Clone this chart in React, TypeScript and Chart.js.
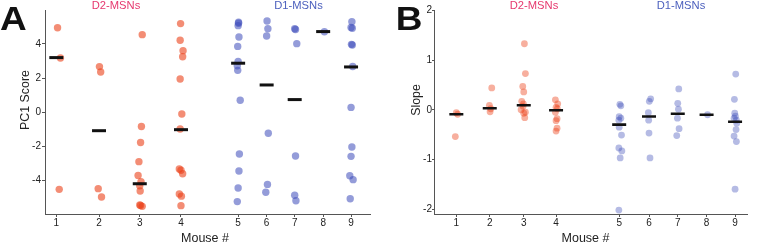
import { useEffect, useRef } from 'react';
import { Chart, registerables } from 'chart.js';

Chart.register(...registerables);

const FONT = '"Liberation Sans", Arial, Helvetica, sans-serif';

// ---------- data ----------
const mouseLabels = ['1', '2', '3', '4', '5', '6', '7', '8', '9'];
const isD2 = [true, true, true, true, false, false, false, false, false];

// axis slot of each mouse (the two groups are spaced differently in the figure)
const slotA = [1, 2.028, 3.008, 4, 5.375, 6.061, 6.736, 7.421, 8.092];
const slotB = [1, 2.005, 3.028, 4, 5.899, 6.796, 7.661, 8.528, 9.385];

const pcTicks = [-4, -2, 0, 2, 4];
const slopeTicks = [-2, -1, 0, 1, 2];

// Panel A: PC1 score per neuron, per mouse
const pcMouse1 = [4.96, 3.18, -4.55];
const pcMouse2 = [2.67, 2.35, -4.51, -5.0];
const pcMouse3 = [4.55, -0.85, -1.79, -2.92, -3.73, -4.1, -4.34, -4.65, -5.47, -5.55, -5.5];
const pcMouse4 = [5.2, 4.22, 3.61, 3.25, 1.94, -0.12, -1.0, -3.35, -3.43, -3.63, -4.82, -4.95, -5.51];
const pcMouse5 = [5.28, 5.22, 5.08, 4.41, 3.86, 2.98, 2.72, 2.45, 0.69, -2.47, -3.47, -4.47, -5.27];
const pcMouse6 = [5.35, 4.9, 4.47, -1.25, -4.26, -4.72];
const pcMouse7 = [4.9, 4.85, 4.02, -2.59, -4.9, -5.22];
const pcMouse8 = [4.72];
const pcMouse9 = [5.31, 4.97, 4.93, 3.98, 3.94, 2.68, 0.27, -2.06, -2.61, -3.75, -3.98, -5.1];
const pcValues = [pcMouse1, pcMouse2, pcMouse3, pcMouse4, pcMouse5, pcMouse6, pcMouse7, pcMouse8, pcMouse9];
const pcJitter = [
  [0.03, 0.1, 0.07],
  [0.01, 0.04, -0.02, 0.06],
  [0.06, 0.04, 0.02, -0.02, -0.04, 0.03, 0, 0.01, 0, 0.06, 0.02],
  [-0.01, -0.02, 0.05, 0.04, -0.02, 0.02, -0.02, -0.04, 0, 0.04, -0.04, 0.01, 0],
  [0.01, 0.01, 0, 0.02, -0.01, 0, -0.02, -0.01, 0.05, 0.03, 0.02, 0, -0.02],
  [0.01, 0.03, 0, 0.04, 0.02, -0.02],
  [0, 0.02, 0.05, 0.02, 0, 0.03],
  [0.03],
  [0.02, 0, 0.03, 0.01, 0.03, 0.04, 0, 0.02, 0, -0.03, 0.05, -0.02],
];
const pcMedians = [3.2, -1.1, -4.22, -1.04, 2.87, 1.59, 0.73, 4.73, 2.65];

// Panel B: slope per neuron, per mouse
const slopeMouse1 = [-0.06, -0.09, -0.54];
const slopeMouse2 = [0.44, 0.09, 0.02, -0.04];
const slopeMouse3 = [1.33, 0.73, 0.47, 0.36, 0.17, 0.12, 0.07, 0.0, -0.05, -0.07, -0.16];
const slopeMouse4 = [0.2, 0.12, 0.05, 0.02, -0.05, -0.18, -0.22, -0.37, -0.43];
const slopeMouse5 = [0.11, 0.08, -0.14, -0.17, -0.21, -0.35, -0.51, -0.77, -0.83, -0.97, -2.02];
const slopeMouse6 = [0.22, 0.17, -0.06, -0.21, -0.47, -0.97];
const slopeMouse7 = [0.42, 0.13, 0.01, -0.17, -0.38, -0.52];
const slopeMouse8 = [-0.1];
const slopeMouse9 = [0.72, 0.21, -0.07, -0.13, -0.17, -0.21, -0.27, -0.4, -0.53, -0.64, -1.6];
const slopeValues = [slopeMouse1, slopeMouse2, slopeMouse3, slopeMouse4, slopeMouse5, slopeMouse6, slopeMouse7, slopeMouse8, slopeMouse9];
const slopeJitter = [
  [0, 0.04, -0.03],
  [0.06, -0.01, 0.03, 0.01],
  [0.02, 0.05, -0.03, 0, -0.06, -0.01, -0.02, -0.08, 0.05, 0, 0.03],
  [-0.02, 0.05, 0, 0.04, -0.02, 0.03, 0, 0.03, 0],
  [0.02, 0.05, 0, 0.05, -0.01, 0, 0.07, -0.01, 0.08, 0.03, -0.01],
  [0.05, 0.01, -0.02, -0.01, 0, 0.03],
  [0.03, 0, 0.02, -0.01, 0.04, -0.03],
  [0.03],
  [0.02, -0.02, -0.01, 0.01, -0.03, 0.04, 0.05, 0.03, -0.03, 0.04, 0],
];
const slopeMedians = [-0.09, 0.03, 0.09, -0.01, -0.3, -0.135, -0.08, -0.1, -0.24];

// ---------- styles ----------
const D2_TITLE = '#e6386e';
const D1_TITLE = '#4b5fbd';
const AXIS = '#555';
const TEXT = '#222';

type PanelSpec = {
  width: number;
  left: number;
  values: number[][];
  jitter: number[][];
  medians: number[];
  slots: number[];
  xMin: number;
  xMax: number;
  yMin: number;
  yMax: number;
  yTicks: number[];
  yAxisWidth: number;
  padRight: number;
  yTickLen: number;
  yTickPad: number;
  letter: string;
  letterX: number;
  yTitle: string;
  yTitleX: number;
  d2X: number;
  d1X: number;
  xTitleX: number;
  radius: number;
  d2Color: string;
  d1Color: string;
  barWidth: number;
};

const panelA: PanelSpec = {
  width: 380,
  left: 0,
  values: pcValues,
  jitter: pcJitter,
  medians: pcMedians,
  slots: slotA,
  xMin: 0.728,
  xMax: 8.548,
  yMin: -6,
  yMax: 6,
  yTicks: pcTicks,
  yAxisWidth: 45,
  padRight: 4,
  yTickLen: 3,
  yTickPad: 1,
  letter: 'A',
  letterX: 0,
  yTitle: 'PC1 Score',
  yTitleX: 26,
  d2X: 116,
  d1X: 298.5,
  xTitleX: 205,
  radius: 3.7,
  d2Color: 'rgba(235, 65, 25, 0.6)',
  d1Color: 'rgba(60, 75, 185, 0.55)',
  barWidth: 3,
};

const panelB: PanelSpec = {
  width: 377,
  left: 380,
  values: slopeValues,
  jitter: slopeJitter,
  medians: slopeMedians,
  slots: slotB,
  xMin: 0.328,
  xMax: 9.756,
  yMin: -2.1,
  yMax: 2.01,
  yTicks: slopeTicks,
  yAxisWidth: 54,
  padRight: 0,
  yTickLen: 2,
  yTickPad: 0,
  letter: 'B',
  letterX: 15.7,
  yTitle: 'Slope',
  yTitleX: 37,
  d2X: 154,
  d1X: 301,
  xTitleX: 205.5,
  radius: 3.4,
  d2Color: 'rgba(235, 65, 25, 0.42)',
  d1Color: 'rgba(60, 75, 185, 0.38)',
  barWidth: 2.6,
};

function makeTextPlugin(p: PanelSpec) {
  return {
    id: 'panelText' + p.letter,
    afterDraw(chart: any) {
      const ctx: CanvasRenderingContext2D = chart.ctx;
      ctx.save();
      // panel letter
      ctx.fillStyle = '#111';
      ctx.font = `bold 33px ${FONT}`;
      ctx.textAlign = 'left';
      ctx.textBaseline = 'alphabetic';
      ctx.save();
      ctx.translate(p.letterX, 30);
      ctx.scale(1.12, 1);
      ctx.fillText(p.letter, 0, 0);
      ctx.restore();
      // group titles
      ctx.font = `11.2px ${FONT}`;
      ctx.textAlign = 'center';
      ctx.textBaseline = 'middle';
      ctx.fillStyle = D2_TITLE;
      ctx.fillText('D2-MSNs', p.d2X, 5.5);
      ctx.fillStyle = D1_TITLE;
      ctx.fillText('D1-MSNs', p.d1X, 5.5);
      // x title
      ctx.fillStyle = TEXT;
      ctx.font = `12.5px ${FONT}`;
      ctx.textBaseline = 'alphabetic';
      ctx.fillText('Mouse #', p.xTitleX, 242);
      // y title
      ctx.save();
      ctx.translate(p.yTitleX, 100);
      ctx.rotate(-Math.PI / 2);
      ctx.textBaseline = 'middle';
      ctx.font = `12.4px ${FONT}`;
      ctx.fillText(p.yTitle, 0, 0);
      ctx.restore();
      ctx.restore();
    },
  };
}

function buildChart(canvas: HTMLCanvasElement, p: PanelSpec) {
  const d2Pts: { x: number; y: number }[] = [];
  const d1Pts: { x: number; y: number }[] = [];
  p.values.forEach((arr, m) => {
    arr.forEach((v, i) => {
      const pt = { x: p.slots[m] + p.jitter[m][i], y: v };
      if (isD2[m]) d2Pts.push(pt);
      else d1Pts.push(pt);
    });
  });
  const medPts = p.medians.map((v, m) => ({ x: p.slots[m], y: v }));

  return new Chart(canvas, {
    type: 'scatter',
    data: {
      datasets: [
        {
          label: 'median',
          data: medPts,
          order: 0,
          pointStyle: 'line',
          pointRadius: 7,
          pointHoverRadius: 7,
          pointBorderWidth: p.barWidth,
          pointBorderColor: '#111',
          pointBackgroundColor: '#111',
          showLine: false,
        } as any,
        {
          label: 'D2-MSNs',
          data: d2Pts,
          order: 1,
          pointRadius: p.radius,
          pointHoverRadius: p.radius,
          pointBorderWidth: 0,
          pointBackgroundColor: p.d2Color,
          pointBorderColor: 'rgba(0,0,0,0)',
        },
        {
          label: 'D1-MSNs',
          data: d1Pts,
          order: 2,
          pointRadius: p.radius,
          pointHoverRadius: p.radius,
          pointBorderWidth: 0,
          pointBackgroundColor: p.d1Color,
          pointBorderColor: 'rgba(0,0,0,0)',
        },
      ],
    },
    options: {
      animation: false,
      responsive: false,
      maintainAspectRatio: false,
      devicePixelRatio: 1,
      events: [],
      layout: { padding: { left: 0, right: p.padRight, top: 10, bottom: 0 } },
      plugins: { legend: { display: false }, tooltip: { enabled: false }, title: { display: false } },
      scales: {
        x: {
          type: 'linear',
          min: p.xMin,
          max: p.xMax,
          afterBuildTicks: (s: any) => {
            s.ticks = p.slots.map((v) => ({ value: v }));
          },
          afterFit: (s: any) => {
            s.height = 29;
          },
          ticks: {
            autoSkip: false,
            maxRotation: 0,
            minRotation: 0,
            padding: 0,
            color: TEXT,
            font: { family: FONT, size: 10 },
            callback: (_v: any, i: number) => mouseLabels[i],
          },
          grid: { display: true, drawOnChartArea: false, drawTicks: true, tickLength: 3, color: AXIS, lineWidth: 1 },
          border: { display: true, color: AXIS, width: 1 },
        },
        y: {
          type: 'linear',
          min: p.yMin,
          max: p.yMax,
          afterBuildTicks: (s: any) => {
            s.ticks = p.yTicks.map((v) => ({ value: v }));
          },
          afterFit: (s: any) => {
            s.width = p.yAxisWidth;
          },
          ticks: {
            padding: p.yTickPad,
            color: TEXT,
            font: { family: FONT, size: 10 },
            callback: (v: any) => String(v),
          },
          grid: { display: true, drawOnChartArea: false, drawTicks: true, tickLength: p.yTickLen, color: AXIS, lineWidth: 1 },
          border: { display: true, color: AXIS, width: 1 },
        },
      },
    } as any,
    plugins: [makeTextPlugin(p)],
  });
}

function Panel({ spec }: { spec: PanelSpec }) {
  const ref = useRef<HTMLCanvasElement | null>(null);
  useEffect(() => {
    if (!ref.current) return;
    const chart = buildChart(ref.current, spec);
    return () => chart.destroy();
  }, [spec]);
  return (
    <canvas
      ref={ref}
      width={spec.width}
      height={243}
      style={{ position: 'absolute', left: spec.left, top: 0, width: spec.width, height: 243 }}
    />
  );
}

export default function App() {
  return (
    <div
      style={{
        position: 'fixed',
        left: 0,
        top: 0,
        width: 757,
        height: 243,
        background: '#ffffff',
        overflow: 'hidden',
      }}
    >
      <Panel spec={panelA} />
      <Panel spec={panelB} />
    </div>
  );
}
